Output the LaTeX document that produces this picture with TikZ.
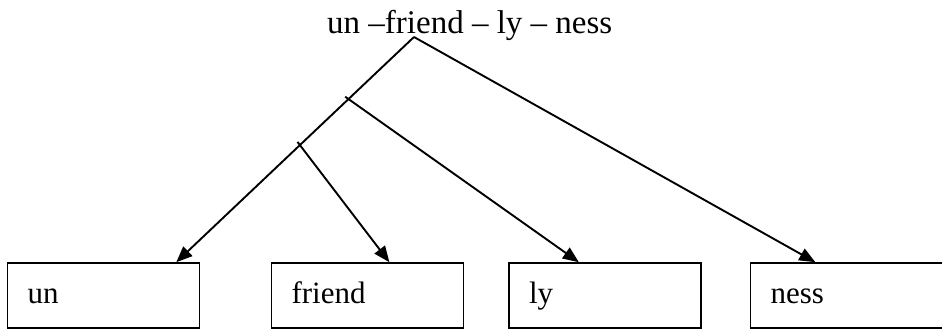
\documentclass[tikz,border=0pt]{standalone}
\usepackage{fontspec}
\setmainfont{Liberation Serif}
\usetikzlibrary{arrows.meta,calc}
\begin{document}
\begin{tikzpicture}[x=1pt,y=1pt,
  morph/.style={draw,line width=1.6pt,minimum height=65pt,minimum width=192pt,
    text width=152pt,inner xsep=20pt,inner ysep=0pt,align=left,anchor=center,
    text height=22pt,text depth=5pt,
    font=\fontsize{31}{36}\selectfont},
  conn/.style={line width=1.9pt,-{Triangle[length=16pt,width=13pt]}}]
\useasboundingbox (0,0) rectangle (942,329);
\node[anchor=base west,inner sep=0pt,font=\fontsize{33}{38}\selectfont] (title) at (327,295) {un --friend -- ly -- ness};
\node[morph] (un) at (103.5,33.5) {un};
\node[morph] (friend) at (367.5,33.5) {friend};
\node[morph] (ly) at (605,33.5) {ly};
\node[morph,minimum width=190pt] (ness) at (846.5,33.5) {ness};
\coordinate (top) at (414,292);
\coordinate (unT) at ($(un.north west)!0.876!(un.north east)$);
\coordinate (frT) at ($(friend.north west)!0.613!(friend.north east)$);
\coordinate (lyT) at ($(ly.north west)!0.365!(ly.north east)$);
\coordinate (neT) at ($(ness.north west)!0.339!(ness.north east)$);
\coordinate (b1) at ($(top)!0.2756!(unT)$);
\coordinate (b2) at ($(top)!0.48!(unT)$);
\draw[conn] (top) -- (unT);
\draw[conn] (top) -- (neT);
\draw[conn] ($(b1)!-4pt!(lyT)$) -- (lyT);
\draw[conn] ($(b2)!-4pt!(frT)$) -- (frT);
\end{tikzpicture}
\end{document}
